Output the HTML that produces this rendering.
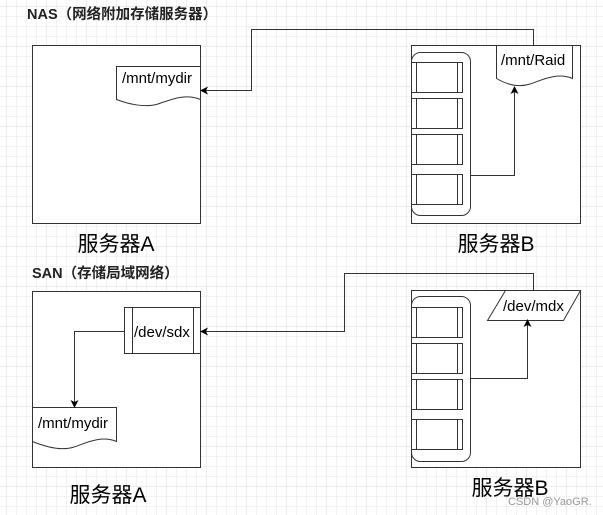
<!DOCTYPE html>
<html><head><meta charset="utf-8"><style>
body{margin:0;width:603px;height:515px;overflow:hidden;background:#fff}
svg{display:block}
text{font-family:"Liberation Sans","Noto Sans CJK SC",sans-serif;fill:#000}
</style></head><body>
<svg width="603" height="515" viewBox="0 0 603 515" xmlns="http://www.w3.org/2000/svg">
<defs>
<pattern id="g" x="6" y="6" width="10" height="10" patternUnits="userSpaceOnUse">
<path d="M10 0H0V10" fill="none" stroke="#e6e6e6" stroke-width="1"/></pattern>
<pattern id="G" x="6" y="6" width="40" height="40" patternUnits="userSpaceOnUse">
<path d="M40 0H0V40" fill="none" stroke="#d8d8d8" stroke-width="1"/></pattern>
<marker id="a" markerWidth="8" markerHeight="8" refX="7" refY="4" orient="auto" markerUnits="userSpaceOnUse"><path d="M0 0L8 4L0 8L2 4Z" fill="#000"/></marker>
</defs>
<rect width="603" height="515" fill="url(#g)"/>
<rect width="603" height="515" fill="url(#G)"/>
<g fill="#fff" stroke="#333" stroke-width="1">
<rect x="32.5" y="45.5" width="168" height="178"/>
<path d="M116.5 66.5H200.5V99.5C185 93 170 100 158 104C145 108 128 104 116.5 99.5Z"/>
<rect x="411.5" y="45.5" width="169" height="178"/>
<rect x="411.5" y="52.5" width="59" height="163" rx="9"/>
<path d="M496.5 45.5H572.5V78.5C557 72 542 80 530 84C518 88 506 84 496.5 78.5Z"/>
<rect x="32.5" y="291.5" width="168" height="176"/>
<rect x="124.5" y="307.5" width="76" height="46"/>
<path d="M32.5 407.5H116.5V441.5C101 435 86 443 74 447C62 451 46 447 32.5 441.5Z"/>
<rect x="411.5" y="290.5" width="169" height="177"/>
<rect x="411.5" y="296.5" width="59" height="165" rx="9"/>
<path d="M505.5 290.5H580.5L563.5 320.5H487.5Z"/>
</g>
<g fill="#fff" stroke="#333">
<rect x="411.5" y="62.5" width="51" height="30"/><rect x="411.5" y="98.5" width="51" height="30"/>
<rect x="411.5" y="134.5" width="51" height="30"/><rect x="411.5" y="174.5" width="51" height="30"/>
<rect x="411.5" y="307.5" width="51" height="30"/><rect x="411.5" y="343.5" width="51" height="30"/>
<rect x="411.5" y="379.5" width="51" height="30"/><rect x="411.5" y="419.5" width="51" height="30"/>
<path fill="none" d="M416.5 62V93M457.5 62V93M416.5 98V129M457.5 98V129M416.5 134V165M457.5 134V165M416.5 174V205M457.5 174V205M416.5 307V338M457.5 307V338M416.5 343V374M457.5 343V374M416.5 379V410M457.5 379V410M416.5 419V450M457.5 419V450M132.5 307V354M193.5 307V354"/>
</g>
<g fill="none" stroke="#333" stroke-width="1">
<path d="M533.5 45V29.5H251.5V90.5H201" marker-end="url(#a)"/>
<path d="M470 175.5H514.5V87" marker-end="url(#a)"/>
<path d="M533.5 290V273.5H344.5V331.5H201" marker-end="url(#a)"/>
<path d="M124 331.5H74.5V407" marker-end="url(#a)"/>
<path d="M470 378.5H527.5V320" marker-end="url(#a)"/>
</g>
<text x="27" y="19" font-size="14.5" font-weight="bold" style="fill:#222">NAS（网络附加存储服务器）</text>
<text x="32" y="278" font-size="14.5" font-weight="bold" style="fill:#222">SAN（存储局域网络）</text>
<text x="122" y="83" font-size="15">/mnt/mydir</text>
<text x="501" y="65" font-size="15">/mnt/Raid</text>
<text x="134" y="337" font-size="15">/dev/sdx</text>
<text x="38" y="428" font-size="15">/mnt/mydir</text>
<text x="503" y="311" font-size="15">/dev/mdx</text>
<text x="116" y="251" font-size="21" text-anchor="middle">服务器A</text>
<text x="496" y="251" font-size="21" text-anchor="middle">服务器B</text>
<text x="108" y="502" font-size="21" text-anchor="middle">服务器A</text>
<text x="510" y="495" font-size="21" text-anchor="middle">服务器B</text>
<text x="508" y="505" font-size="11" style="fill:#999">CSDN @YaoGR.</text>
</svg>
</body></html>
